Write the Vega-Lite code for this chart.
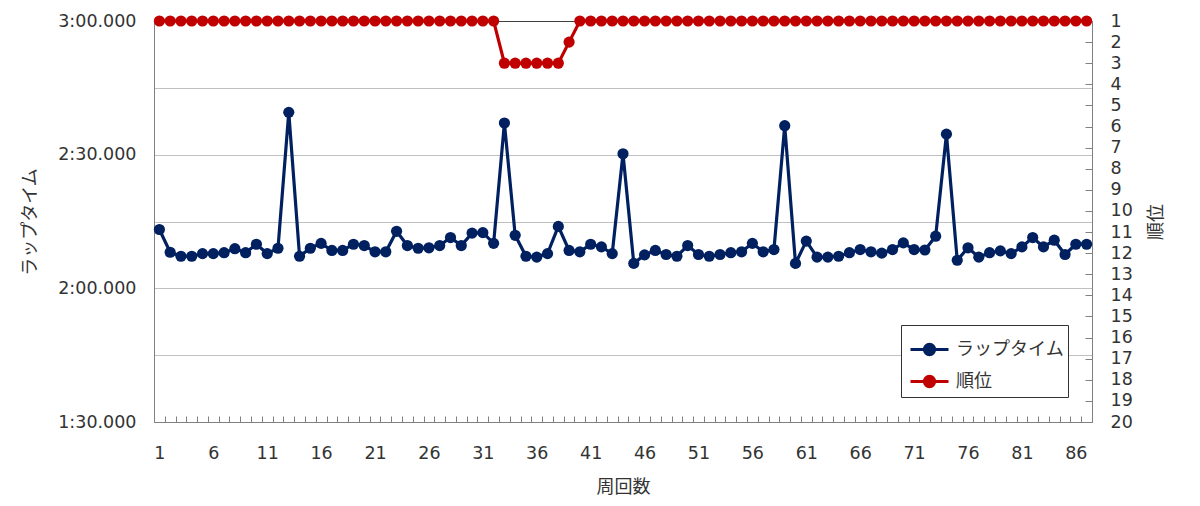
{
  "$schema": "https://vega.github.io/schema/vega-lite/v6.json",
  "width": 938,
  "height": 401,
  "autosize": {"type": "none"},
  "padding": {"left": 154, "top": 21, "right": 108, "bottom": 84},
  "background": "white",
  "config": {
    "view": {"stroke": null},
    "font": "DejaVu Sans, Noto Sans CJK JP",
    "axis": {"labelFont": "DejaVu Sans, Noto Sans CJK JP", "titleFont": "Noto Sans CJK JP", "labelColor": "#333333", "titleColor": "#333333", "labelFontSize": 17.5, "titleFontSize": 18, "titleFontWeight": "normal", "domainColor": "#808080", "tickColor": "#808080"}
  },
  "data": {
    "values": [
      {"lap": 1, "time": 133.2, "pos": 1}, {"lap": 2, "time": 128.1, "pos": 1}, {"lap": 3, "time": 127.2, "pos": 1},
      {"lap": 4, "time": 127.2, "pos": 1}, {"lap": 5, "time": 127.8, "pos": 1}, {"lap": 6, "time": 127.8, "pos": 1},
      {"lap": 7, "time": 128.0, "pos": 1}, {"lap": 8, "time": 128.9, "pos": 1}, {"lap": 9, "time": 128.0, "pos": 1},
      {"lap": 10, "time": 129.9, "pos": 1}, {"lap": 11, "time": 127.8, "pos": 1}, {"lap": 12, "time": 129.0, "pos": 1},
      {"lap": 13, "time": 159.5, "pos": 1}, {"lap": 14, "time": 127.2, "pos": 1}, {"lap": 15, "time": 129.0, "pos": 1},
      {"lap": 16, "time": 130.1, "pos": 1}, {"lap": 17, "time": 128.5, "pos": 1}, {"lap": 18, "time": 128.5, "pos": 1},
      {"lap": 19, "time": 129.9, "pos": 1}, {"lap": 20, "time": 129.6, "pos": 1}, {"lap": 21, "time": 128.2, "pos": 1},
      {"lap": 22, "time": 128.2, "pos": 1}, {"lap": 23, "time": 132.8, "pos": 1}, {"lap": 24, "time": 129.6, "pos": 1},
      {"lap": 25, "time": 129.0, "pos": 1}, {"lap": 26, "time": 129.1, "pos": 1}, {"lap": 27, "time": 129.6, "pos": 1},
      {"lap": 28, "time": 131.4, "pos": 1}, {"lap": 29, "time": 129.6, "pos": 1}, {"lap": 30, "time": 132.4, "pos": 1},
      {"lap": 31, "time": 132.5, "pos": 1}, {"lap": 32, "time": 130.1, "pos": 1}, {"lap": 33, "time": 157.1, "pos": 3},
      {"lap": 34, "time": 131.9, "pos": 3}, {"lap": 35, "time": 127.2, "pos": 3}, {"lap": 36, "time": 127.0, "pos": 3},
      {"lap": 37, "time": 127.8, "pos": 3}, {"lap": 38, "time": 133.9, "pos": 3}, {"lap": 39, "time": 128.5, "pos": 2},
      {"lap": 40, "time": 128.2, "pos": 1}, {"lap": 41, "time": 129.9, "pos": 1}, {"lap": 42, "time": 129.3, "pos": 1},
      {"lap": 43, "time": 127.8, "pos": 1}, {"lap": 44, "time": 150.2, "pos": 1}, {"lap": 45, "time": 125.6, "pos": 1},
      {"lap": 46, "time": 127.5, "pos": 1}, {"lap": 47, "time": 128.5, "pos": 1}, {"lap": 48, "time": 127.6, "pos": 1},
      {"lap": 49, "time": 127.2, "pos": 1}, {"lap": 50, "time": 129.6, "pos": 1}, {"lap": 51, "time": 127.6, "pos": 1},
      {"lap": 52, "time": 127.2, "pos": 1}, {"lap": 53, "time": 127.6, "pos": 1}, {"lap": 54, "time": 128.0, "pos": 1},
      {"lap": 55, "time": 128.2, "pos": 1}, {"lap": 56, "time": 130.1, "pos": 1}, {"lap": 57, "time": 128.2, "pos": 1},
      {"lap": 58, "time": 128.7, "pos": 1}, {"lap": 59, "time": 156.5, "pos": 1}, {"lap": 60, "time": 125.6, "pos": 1},
      {"lap": 61, "time": 130.6, "pos": 1}, {"lap": 62, "time": 127.0, "pos": 1}, {"lap": 63, "time": 127.0, "pos": 1},
      {"lap": 64, "time": 127.2, "pos": 1}, {"lap": 65, "time": 128.0, "pos": 1}, {"lap": 66, "time": 128.7, "pos": 1},
      {"lap": 67, "time": 128.2, "pos": 1}, {"lap": 68, "time": 127.9, "pos": 1}, {"lap": 69, "time": 128.7, "pos": 1},
      {"lap": 70, "time": 130.2, "pos": 1}, {"lap": 71, "time": 128.7, "pos": 1}, {"lap": 72, "time": 128.6, "pos": 1},
      {"lap": 73, "time": 131.7, "pos": 1}, {"lap": 74, "time": 154.6, "pos": 1}, {"lap": 75, "time": 126.3, "pos": 1},
      {"lap": 76, "time": 129.1, "pos": 1}, {"lap": 77, "time": 127.0, "pos": 1}, {"lap": 78, "time": 128.0, "pos": 1},
      {"lap": 79, "time": 128.4, "pos": 1}, {"lap": 80, "time": 127.8, "pos": 1}, {"lap": 81, "time": 129.3, "pos": 1},
      {"lap": 82, "time": 131.4, "pos": 1}, {"lap": 83, "time": 129.3, "pos": 1}, {"lap": 84, "time": 130.8, "pos": 1},
      {"lap": 85, "time": 127.6, "pos": 1}, {"lap": 86, "time": 129.9, "pos": 1}, {"lap": 87, "time": 129.9, "pos": 1}
    ]
  },
  "encoding": {
    "x": {
      "field": "lap", "type": "ordinal", "title": "周回数",
      "scale": {"type": "band", "paddingInner": 0, "paddingOuter": 0},
      "axis": {"labelAngle": 0, "tickBand": "extent", "tickSize": -6, "labelPadding": 28, "titlePadding": 17,
        "labelExpr": "(datum.value - 1) % 5 == 0 ? datum.label : ''", "grid": false}
    }
  },
  "layer": [
    {
      "mark": {"type": "line", "strokeWidth": 3.2, "point": {"filled": true, "size": 125}},
      "encoding": {
        "y": {
          "field": "time", "type": "quantitative", "title": "ラップタイム",
          "scale": {"domain": [90, 180], "nice": false, "zero": false},
          "axis": {
            "values": [90, 105, 120, 135, 150, 165, 180],
            "labelExpr": "datum.value % 30 == 0 ? floor(datum.value / 60) + ':' + (datum.value % 60 < 10 ? '0' : '') + (datum.value % 60) + '.000' : ''",
            "grid": true,
            "gridColor": {"condition": {"test": "datum.value == 180", "value": "#404040"}, "value": "#c0c0c0"},
            "ticks": false, "labelPadding": 18, "titlePadding": 18
          }
        },
        "color": {
          "datum": "ラップタイム", "type": "nominal",
          "scale": {"domain": ["ラップタイム", "順位"], "range": ["#002060", "#c00000"]},
          "legend": {
            "title": null, "orient": "none", "legendX": 747, "legendY": 304,
            "direction": "vertical",
            "strokeColor": "#333333", "fillColor": "white", "padding": 4, "rowPadding": 0,
            "labelFontSize": 18, "labelFont": "Noto Sans CJK JP", "labelColor": "#333333", "labelOffset": 6,
            "symbolType": "M-1,0H1M0.27,0A0.27,0.27 0 1 1 -0.27,0A0.27,0.27 0 1 1 0.27,0Z",
            "symbolSize": 1444, "symbolStrokeWidth": 3, "symbolOffset": 4,
            "encode": {"symbols": {"update": {"fill": {"scale": "color", "field": "value"}, "stroke": {"scale": "color", "field": "value"}}}}
          }
        }
      }
    },
    {
      "mark": {"type": "line", "strokeWidth": 3.2, "point": {"filled": true, "size": 125}},
      "encoding": {
        "y": {
          "field": "pos", "type": "quantitative", "title": "順位",
          "scale": {"domain": [1, 20], "reverse": true, "nice": false, "zero": false},
          "axis": {"orient": "right", "values": [1, 2, 3, 4, 5, 6, 7, 8, 9, 10, 11, 12, 13, 14, 15, 16, 17, 18, 19, 20],
            "grid": false, "tickSize": -7, "labelPadding": 25, "titlePadding": 33, "titleAngle": -90}
        },
        "color": {"datum": "順位", "type": "nominal"}
      }
    }
  ],
  "resolve": {"scale": {"y": "independent"}}
}
